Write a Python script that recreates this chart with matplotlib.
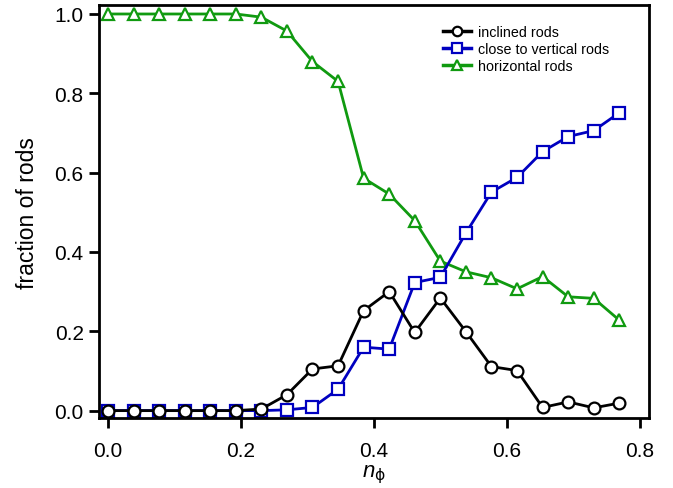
import matplotlib
matplotlib.use("Agg")
import matplotlib.pyplot as plt
import numpy as np

plt.rcParams['font.family'] = ['Liberation Sans', 'DejaVu Sans']
plt.rcParams['mathtext.fontset'] = 'custom'
plt.rcParams['mathtext.it'] = 'Liberation Sans:italic'
plt.rcParams['mathtext.rm'] = 'DejaVu Sans'

n_phi = [0.0, 0.0385, 0.0769, 0.1154, 0.1538, 0.1923, 0.2308, 0.2692, 0.3077,
         0.3462, 0.3846, 0.4231, 0.4615, 0.5, 0.5385, 0.5769, 0.6154, 0.6538,
         0.6923, 0.7308, 0.7692]
inclined = [0, 0, 0, 0, 0, 0, 0.004, 0.040, 0.105, 0.113, 0.252, 0.300, 0.197,
            0.284, 0.199, 0.111, 0.101, 0.008, 0.022, 0.007, 0.019]
vertical = [0, 0, 0, 0, 0, 0, 0.0, 0.002, 0.008, 0.054, 0.160, 0.155, 0.323,
            0.336, 0.448, 0.551, 0.588, 0.653, 0.691, 0.706, 0.751]
horizontal = [1.0, 1.0, 1.0, 1.0, 1.0, 1.0, 0.992, 0.957, 0.880, 0.830, 0.586,
              0.546, 0.479, 0.377, 0.350, 0.335, 0.307, 0.338, 0.287, 0.283, 0.228]
labels = ['inclined rods', 'close to vertical rods', 'horizontal rods']
xticks = [0.0, 0.2, 0.4, 0.6, 0.8]
yticks = [0.0, 0.2, 0.4, 0.6, 0.8, 1.0]

fig = plt.figure(figsize=(6.73, 4.89), dpi=100)
ax = fig.add_axes([0.147, 0.1425, 0.817, 0.8455])

kw = dict(lw=2.0, ms=8.5, mew=1.6, mfc='white')
ax.plot(n_phi, inclined, '-o', color='black', label=labels[0], zorder=3, **kw)
ax.plot(n_phi, vertical, '-s', color='#0000c0', label=labels[1], zorder=2, **kw)
ax.plot(n_phi, horizontal, '-^', color='#109a10', label=labels[2], zorder=1, **kw)

ax.set_xlim(-0.0135, 0.8135)
ax.set_ylim(-0.0194, 1.023)
ax.set_xticks(xticks)
ax.set_yticks(yticks)
ax.set_xticklabels([f'{t:.1f}' for t in xticks])
ax.set_yticklabels([f'{t:.1f}' for t in yticks])
for s in ax.spines.values():
    s.set_linewidth(2.0)
ax.tick_params(direction='out', length=7, width=2.0, labelsize=15, pad=4)
ax.tick_params(axis='x', pad=9)
ax.tick_params(top=False, right=False)

ax.set_xlabel(r'$n_{\mathrm{\phi}}$', fontsize=16, labelpad=2)
ax.set_ylabel('fraction of rods', fontsize=16.5, labelpad=11)

leg = ax.legend(loc='upper left', bbox_to_anchor=(0.625, 0.951), frameon=False,
                fontsize=10.3, handlelength=2.0, handletextpad=0.45, labelspacing=0.2,
                borderpad=0, borderaxespad=0, markerscale=0.8)
for h in leg.legend_handles:
    h.set_linewidth(2.5)

fig.savefig('out.png', dpi=100)
